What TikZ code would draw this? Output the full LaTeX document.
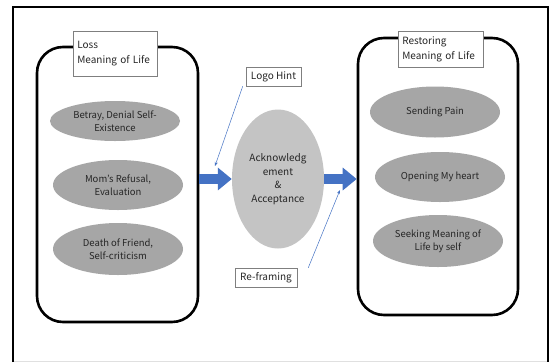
\documentclass[tikz,border=0pt]{standalone}
\usepackage{fontspec}
\setmainfont{Noto Sans CJK KR}
\usetikzlibrary{arrows.meta,shapes.geometric}

\definecolor{inkdark}{HTML}{262626}
\definecolor{stagegray}{HTML}{A6A6A6}
\definecolor{coregray}{HTML}{C4C4C4}
\definecolor{flowblue}{HTML}{4472C4}
\definecolor{tagborder}{HTML}{7F7F7F}

\tikzset{
  panel/.style={draw=black, line width=2.6pt, rounded corners=26pt,
    minimum width=161pt, minimum height=275pt, inner sep=0pt},
  stage/.style={ellipse, fill=stagegray, minimum width=130pt, inner sep=0pt,
    align=center, text=inkdark, font=\fontsize{9.5}{13}\selectfont},
  core/.style={ellipse, fill=coregray, minimum width=92pt, minimum height=139pt,
    inner sep=0pt, align=center, text=inkdark, font=\fontsize{10}{13.5}\selectfont},
  tag/.style={draw=tagborder, line width=0.6pt, fill=white, text=inkdark,
    font=\fontsize{10}{14.5}\selectfont, inner sep=0pt},
  titletag/.style={tag, anchor=north west, inner xsep=4pt, align=left},
  bigflow/.style={draw=flowblue, line width=10pt,
    -{Triangle[length=14pt,width=22pt]}},
  hintline/.style={draw=flowblue, line width=0.5pt,
    -{Stealth[length=4pt,width=3pt]}}
}

\begin{document}
\begin{tikzpicture}[x=1pt,y=-1pt]
  \useasboundingbox (0,0) rectangle (551,362);
  \fill[white] (0,0) rectangle (551,362);

  % outer frame
  \draw[black!12, line width=1pt] (13,361) -- (548,361);
  \draw[black, line width=2.8pt] (13,362) -- (13,7) -- (548,7) -- (548,362);

  % left and right panels
  \node[panel] (lbox) at (117.5,184.5) {};
  \node[panel, minimum width=160pt, minimum height=277pt] (rbox) at (438,176.5) {};

  % panel titles
  \node[titletag, minimum height=45pt, text width=76pt] (ltag) at (73,31)
    {Loss\\Meaning of Life};
  \node[titletag, minimum height=36pt, text width=77pt] (rtag) at (398,31)
    {Restoring\\Meaning of Life};

  % stages on the left
  \node[stage, minimum height=40pt] (s1) at (115,121) {Betray, Denial Self-\\Existence};
  \node[stage, minimum height=50pt] (s2) at (118,185) {Mom’s Refusal,\\Evaluation};
  \node[stage, minimum height=52pt] (s3) at (118,249) {Death of Friend,\\Self-criticism};

  % stages on the right
  \node[stage, minimum height=51pt] (r1) at (435,112) {Sending Pain};
  \node[stage, minimum height=50pt] (r2) at (440,177) {Opening My heart};
  \node[stage, minimum height=52pt] (r3) at (438,241) {Seeking Meaning of\\Life by self};

  % central step
  \node[core] (ctr) at (278,179) {Acknowledg\\ement\\\&\\Acceptance};

  % hint boxes
  \node[tag, minimum width=55pt, minimum height=19pt] (logo) at (273.5,76.5) {Logo Hint};
  \node[tag, minimum width=62pt, minimum height=19pt] (refr) at (266,277.5) {Re-framing};

  % main flow
  \draw[bigflow] (lbox.east |- ctr.west) -- (ctr.west);
  \draw[bigflow] (ctr.east) -- (rbox.west |- ctr.east);

  % hint pointers
  \coordinate (logotip) at (215,166);
  \coordinate (refrtip) at (340,190);
  \draw[hintline] ([xshift=-3pt]logo.south west) -- (logotip);
  \draw[hintline] ([xshift=11pt]refr.north east) -- (refrtip);
\end{tikzpicture}
\end{document}
